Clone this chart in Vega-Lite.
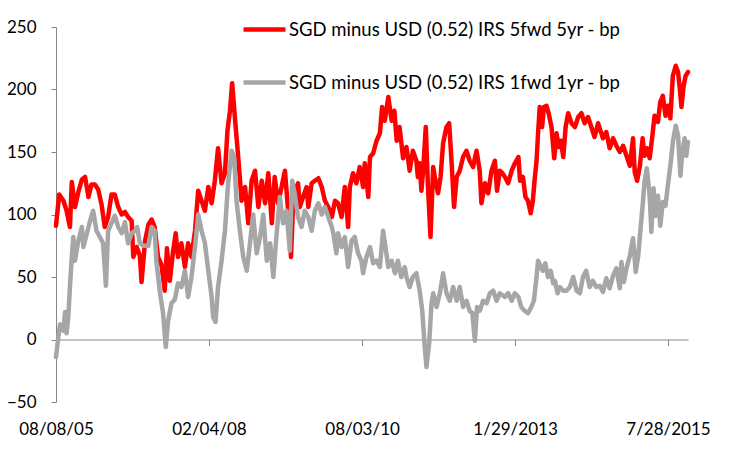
{
  "$schema": "https://vega.github.io/schema/vega-lite/v6.json",
  "width": 632,
  "height": 375,
  "autosize": {"type": "none"},
  "padding": {"left": 56, "top": 27, "right": 62, "bottom": 48},
  "config": {
    "font": "Lato",
    "view": {"stroke": null},
    "axis": {
      "labelFont": "Lato",
      "labelFontSize": 17,
      "labelColor": "#000000",
      "domainColor": "#868686",
      "tickColor": "#868686",
      "domainWidth": 1,
      "tickWidth": 1,
      "grid": false,
      "title": null
    },
    "legend": {
      "orient": "none",
      "legendX": 185,
      "legendY": -21,
      "padding": 0,
      "title": null,
      "symbolType": "stroke",
      "symbolSize": 1764,
      "symbolStrokeWidth": 4.5,
      "rowPadding": 20,
      "labelOffset": 1,
      "labelFont": "Lato",
      "labelFontSize": 18.5,
      "labelColor": "#000000",
      "labelLimit": 600
    }
  },
  "datasets": {
    "fwd5y5y": [
      {"date": "2005-08-08", "bp": 91}, {"date": "2005-08-27", "bp": 116}, {"date": "2005-09-21", "bp": 111},
      {"date": "2005-10-10", "bp": 103}, {"date": "2005-10-30", "bp": 90}, {"date": "2005-11-10", "bp": 126},
      {"date": "2005-11-29", "bp": 106}, {"date": "2005-12-19", "bp": 118}, {"date": "2006-01-09", "bp": 128},
      {"date": "2006-01-28", "bp": 130}, {"date": "2006-02-17", "bp": 114}, {"date": "2006-03-07", "bp": 124},
      {"date": "2006-03-27", "bp": 124}, {"date": "2006-04-16", "bp": 120}, {"date": "2006-05-06", "bp": 108},
      {"date": "2006-05-25", "bp": 90}, {"date": "2006-06-14", "bp": 98}, {"date": "2006-07-04", "bp": 116},
      {"date": "2006-07-24", "bp": 116}, {"date": "2006-08-13", "bp": 106}, {"date": "2006-09-03", "bp": 100},
      {"date": "2006-09-22", "bp": 102}, {"date": "2006-10-11", "bp": 98}, {"date": "2006-11-01", "bp": 95},
      {"date": "2006-11-11", "bp": 66}, {"date": "2006-12-01", "bp": 74}, {"date": "2006-12-20", "bp": 67},
      {"date": "2006-12-30", "bp": 46}, {"date": "2007-01-20", "bp": 79}, {"date": "2007-02-09", "bp": 92},
      {"date": "2007-02-28", "bp": 96}, {"date": "2007-03-18", "bp": 90}, {"date": "2007-04-07", "bp": 66},
      {"date": "2007-04-27", "bp": 60}, {"date": "2007-05-17", "bp": 39}, {"date": "2007-05-30", "bp": 73},
      {"date": "2007-06-16", "bp": 47}, {"date": "2007-07-06", "bp": 71}, {"date": "2007-07-21", "bp": 85},
      {"date": "2007-08-04", "bp": 66}, {"date": "2007-08-24", "bp": 77}, {"date": "2007-09-14", "bp": 58},
      {"date": "2007-10-03", "bp": 77}, {"date": "2007-10-23", "bp": 66}, {"date": "2007-11-13", "bp": 87},
      {"date": "2007-12-02", "bp": 119}, {"date": "2007-12-22", "bp": 111}, {"date": "2008-01-11", "bp": 103},
      {"date": "2008-01-31", "bp": 122}, {"date": "2008-02-20", "bp": 109}, {"date": "2008-03-10", "bp": 127},
      {"date": "2008-03-29", "bp": 153}, {"date": "2008-04-19", "bp": 125}, {"date": "2008-05-09", "bp": 133},
      {"date": "2008-05-24", "bp": 167}, {"date": "2008-06-08", "bp": 183}, {"date": "2008-06-21", "bp": 205},
      {"date": "2008-07-07", "bp": 178}, {"date": "2008-07-27", "bp": 146}, {"date": "2008-08-16", "bp": 111},
      {"date": "2008-09-06", "bp": 122}, {"date": "2008-09-25", "bp": 93}, {"date": "2008-10-15", "bp": 127},
      {"date": "2008-11-04", "bp": 135}, {"date": "2008-11-24", "bp": 106}, {"date": "2008-12-14", "bp": 127},
      {"date": "2009-01-03", "bp": 109}, {"date": "2009-01-22", "bp": 133}, {"date": "2009-02-12", "bp": 93},
      {"date": "2009-03-01", "bp": 130}, {"date": "2009-03-21", "bp": 109}, {"date": "2009-04-11", "bp": 122},
      {"date": "2009-05-01", "bp": 135}, {"date": "2009-05-20", "bp": 103}, {"date": "2009-06-06", "bp": 66},
      {"date": "2009-06-19", "bp": 109}, {"date": "2009-07-09", "bp": 122}, {"date": "2009-07-18", "bp": 125},
      {"date": "2009-07-28", "bp": 106}, {"date": "2009-08-17", "bp": 114}, {"date": "2009-09-07", "bp": 122},
      {"date": "2009-09-17", "bp": 106}, {"date": "2009-10-07", "bp": 125}, {"date": "2009-10-26", "bp": 127},
      {"date": "2009-11-16", "bp": 129}, {"date": "2009-12-06", "bp": 122}, {"date": "2009-12-25", "bp": 111},
      {"date": "2010-01-14", "bp": 106}, {"date": "2010-02-04", "bp": 98}, {"date": "2010-02-23", "bp": 111},
      {"date": "2010-03-13", "bp": 109}, {"date": "2010-04-03", "bp": 98}, {"date": "2010-04-22", "bp": 122},
      {"date": "2010-05-12", "bp": 90}, {"date": "2010-05-22", "bp": 122}, {"date": "2010-06-10", "bp": 133},
      {"date": "2010-06-30", "bp": 125}, {"date": "2010-07-20", "bp": 138}, {"date": "2010-08-09", "bp": 122},
      {"date": "2010-08-19", "bp": 141}, {"date": "2010-09-09", "bp": 114}, {"date": "2010-09-19", "bp": 146},
      {"date": "2010-10-08", "bp": 149}, {"date": "2010-10-28", "bp": 159}, {"date": "2010-11-17", "bp": 165},
      {"date": "2010-11-30", "bp": 186}, {"date": "2010-12-16", "bp": 175}, {"date": "2011-01-06", "bp": 194},
      {"date": "2011-01-26", "bp": 175}, {"date": "2011-02-11", "bp": 183}, {"date": "2011-02-25", "bp": 159},
      {"date": "2011-03-14", "bp": 170}, {"date": "2011-04-04", "bp": 145}, {"date": "2011-04-24", "bp": 154},
      {"date": "2011-05-13", "bp": 135}, {"date": "2011-06-01", "bp": 151}, {"date": "2011-06-22", "bp": 143},
      {"date": "2011-07-01", "bp": 130}, {"date": "2011-07-12", "bp": 141}, {"date": "2011-07-22", "bp": 119},
      {"date": "2011-08-01", "bp": 135}, {"date": "2011-08-17", "bp": 170}, {"date": "2011-08-30", "bp": 122},
      {"date": "2011-09-14", "bp": 82}, {"date": "2011-09-30", "bp": 138}, {"date": "2011-10-16", "bp": 125},
      {"date": "2011-10-29", "bp": 117}, {"date": "2011-11-13", "bp": 130}, {"date": "2011-11-28", "bp": 157},
      {"date": "2011-12-18", "bp": 170}, {"date": "2012-01-03", "bp": 173}, {"date": "2012-01-17", "bp": 143},
      {"date": "2012-02-01", "bp": 106}, {"date": "2012-02-17", "bp": 130}, {"date": "2012-03-06", "bp": 135},
      {"date": "2012-03-26", "bp": 146}, {"date": "2012-04-15", "bp": 151}, {"date": "2012-05-04", "bp": 143},
      {"date": "2012-05-24", "bp": 138}, {"date": "2012-06-14", "bp": 151}, {"date": "2012-07-03", "bp": 135},
      {"date": "2012-07-13", "bp": 109}, {"date": "2012-08-03", "bp": 125}, {"date": "2012-08-22", "bp": 117},
      {"date": "2012-09-11", "bp": 135}, {"date": "2012-10-01", "bp": 143}, {"date": "2012-10-14", "bp": 119},
      {"date": "2012-10-30", "bp": 135}, {"date": "2012-11-15", "bp": 133}, {"date": "2012-11-30", "bp": 130},
      {"date": "2012-12-19", "bp": 125}, {"date": "2013-01-09", "bp": 135}, {"date": "2013-01-28", "bp": 141},
      {"date": "2013-02-18", "bp": 146}, {"date": "2013-02-28", "bp": 127}, {"date": "2013-03-17", "bp": 130},
      {"date": "2013-04-01", "bp": 114}, {"date": "2013-04-16", "bp": 111}, {"date": "2013-05-02", "bp": 101},
      {"date": "2013-05-15", "bp": 111}, {"date": "2013-05-25", "bp": 127}, {"date": "2013-06-06", "bp": 143},
      {"date": "2013-06-15", "bp": 165}, {"date": "2013-06-25", "bp": 186}, {"date": "2013-07-09", "bp": 170},
      {"date": "2013-07-20", "bp": 186}, {"date": "2013-08-04", "bp": 187}, {"date": "2013-08-17", "bp": 181},
      {"date": "2013-09-03", "bp": 170}, {"date": "2013-09-19", "bp": 145}, {"date": "2013-10-03", "bp": 165},
      {"date": "2013-10-16", "bp": 154}, {"date": "2013-10-28", "bp": 159}, {"date": "2013-11-12", "bp": 146},
      {"date": "2013-11-26", "bp": 170}, {"date": "2013-12-11", "bp": 181}, {"date": "2013-12-31", "bp": 173},
      {"date": "2014-01-20", "bp": 170}, {"date": "2014-02-09", "bp": 178}, {"date": "2014-02-28", "bp": 181},
      {"date": "2014-03-19", "bp": 173}, {"date": "2014-04-08", "bp": 178}, {"date": "2014-04-28", "bp": 170},
      {"date": "2014-05-17", "bp": 162}, {"date": "2014-06-07", "bp": 173}, {"date": "2014-07-06", "bp": 161},
      {"date": "2014-07-26", "bp": 166}, {"date": "2014-08-15", "bp": 153}, {"date": "2014-09-04", "bp": 161},
      {"date": "2014-09-24", "bp": 155}, {"date": "2014-10-14", "bp": 150}, {"date": "2014-11-03", "bp": 155},
      {"date": "2014-11-23", "bp": 147}, {"date": "2014-12-13", "bp": 139}, {"date": "2015-01-01", "bp": 161},
      {"date": "2015-01-11", "bp": 134}, {"date": "2015-01-25", "bp": 127}, {"date": "2015-02-11", "bp": 139},
      {"date": "2015-02-27", "bp": 161}, {"date": "2015-03-10", "bp": 147}, {"date": "2015-03-24", "bp": 153},
      {"date": "2015-04-10", "bp": 145}, {"date": "2015-04-26", "bp": 163}, {"date": "2015-05-09", "bp": 179},
      {"date": "2015-05-29", "bp": 174}, {"date": "2015-06-12", "bp": 190}, {"date": "2015-06-27", "bp": 195},
      {"date": "2015-07-13", "bp": 179}, {"date": "2015-07-27", "bp": 187}, {"date": "2015-08-11", "bp": 177},
      {"date": "2015-08-26", "bp": 211}, {"date": "2015-09-12", "bp": 219}, {"date": "2015-09-26", "bp": 214},
      {"date": "2015-10-06", "bp": 201}, {"date": "2015-10-16", "bp": 186}, {"date": "2015-10-29", "bp": 203},
      {"date": "2015-11-10", "bp": 211}, {"date": "2015-11-24", "bp": 214}
    ],
    "fwd1y1y": [
      {"date": "2005-08-08", "bp": -14}, {"date": "2005-08-22", "bp": 2}, {"date": "2005-09-01", "bp": 12},
      {"date": "2005-09-21", "bp": 7}, {"date": "2005-10-01", "bp": 22}, {"date": "2005-10-10", "bp": 5},
      {"date": "2005-10-20", "bp": 18}, {"date": "2005-10-30", "bp": 42}, {"date": "2005-11-10", "bp": 66},
      {"date": "2005-11-19", "bp": 82}, {"date": "2005-11-29", "bp": 63}, {"date": "2005-12-19", "bp": 79},
      {"date": "2006-01-09", "bp": 90}, {"date": "2006-01-18", "bp": 74}, {"date": "2006-02-08", "bp": 85},
      {"date": "2006-02-27", "bp": 95}, {"date": "2006-03-17", "bp": 103}, {"date": "2006-04-06", "bp": 87},
      {"date": "2006-04-26", "bp": 82}, {"date": "2006-05-15", "bp": 77}, {"date": "2006-06-01", "bp": 43},
      {"date": "2006-06-14", "bp": 87}, {"date": "2006-07-04", "bp": 93}, {"date": "2006-07-24", "bp": 99},
      {"date": "2006-08-13", "bp": 90}, {"date": "2006-09-03", "bp": 85}, {"date": "2006-09-22", "bp": 94},
      {"date": "2006-10-11", "bp": 77}, {"date": "2006-11-01", "bp": 85}, {"date": "2006-11-21", "bp": 87},
      {"date": "2006-12-04", "bp": 90}, {"date": "2006-12-20", "bp": 77}, {"date": "2007-01-10", "bp": 75},
      {"date": "2007-02-09", "bp": 75}, {"date": "2007-02-28", "bp": 90}, {"date": "2007-03-18", "bp": 87},
      {"date": "2007-03-28", "bp": 63}, {"date": "2007-04-17", "bp": 39}, {"date": "2007-05-07", "bp": 21},
      {"date": "2007-05-23", "bp": -6}, {"date": "2007-06-06", "bp": 15}, {"date": "2007-06-26", "bp": 29},
      {"date": "2007-07-16", "bp": 32}, {"date": "2007-08-04", "bp": 45}, {"date": "2007-08-24", "bp": 42},
      {"date": "2007-09-14", "bp": 55}, {"date": "2007-10-03", "bp": 34}, {"date": "2007-10-23", "bp": 50},
      {"date": "2007-11-13", "bp": 74}, {"date": "2007-12-02", "bp": 100}, {"date": "2007-12-22", "bp": 87},
      {"date": "2008-01-11", "bp": 77}, {"date": "2008-01-31", "bp": 55}, {"date": "2008-02-20", "bp": 34},
      {"date": "2008-02-29", "bp": 18}, {"date": "2008-03-14", "bp": 14}, {"date": "2008-03-29", "bp": 42},
      {"date": "2008-04-19", "bp": 63}, {"date": "2008-05-09", "bp": 87}, {"date": "2008-05-28", "bp": 125},
      {"date": "2008-06-18", "bp": 151}, {"date": "2008-07-03", "bp": 146}, {"date": "2008-07-17", "bp": 111},
      {"date": "2008-08-06", "bp": 87}, {"date": "2008-08-26", "bp": 66}, {"date": "2008-09-16", "bp": 55},
      {"date": "2008-10-05", "bp": 77}, {"date": "2008-10-24", "bp": 100}, {"date": "2008-11-14", "bp": 69},
      {"date": "2008-12-04", "bp": 82}, {"date": "2008-12-23", "bp": 100}, {"date": "2009-01-13", "bp": 63},
      {"date": "2009-02-02", "bp": 77}, {"date": "2009-02-21", "bp": 50}, {"date": "2009-03-11", "bp": 82},
      {"date": "2009-04-01", "bp": 114}, {"date": "2009-04-20", "bp": 93}, {"date": "2009-05-10", "bp": 103},
      {"date": "2009-05-30", "bp": 71}, {"date": "2009-06-13", "bp": 127}, {"date": "2009-06-29", "bp": 116},
      {"date": "2009-07-18", "bp": 98}, {"date": "2009-08-08", "bp": 90}, {"date": "2009-08-27", "bp": 103},
      {"date": "2009-09-17", "bp": 98}, {"date": "2009-10-07", "bp": 87}, {"date": "2009-10-26", "bp": 103},
      {"date": "2009-11-16", "bp": 109}, {"date": "2009-12-06", "bp": 100}, {"date": "2009-12-25", "bp": 106},
      {"date": "2010-01-14", "bp": 98}, {"date": "2010-02-04", "bp": 90}, {"date": "2010-02-13", "bp": 85},
      {"date": "2010-03-03", "bp": 69}, {"date": "2010-03-13", "bp": 85}, {"date": "2010-04-03", "bp": 74},
      {"date": "2010-04-22", "bp": 82}, {"date": "2010-05-12", "bp": 58}, {"date": "2010-06-01", "bp": 79},
      {"date": "2010-06-20", "bp": 82}, {"date": "2010-07-10", "bp": 69}, {"date": "2010-07-30", "bp": 63},
      {"date": "2010-08-09", "bp": 53}, {"date": "2010-08-29", "bp": 66}, {"date": "2010-09-19", "bp": 74},
      {"date": "2010-10-08", "bp": 61}, {"date": "2010-10-28", "bp": 63}, {"date": "2010-11-17", "bp": 58},
      {"date": "2010-12-06", "bp": 87}, {"date": "2010-12-20", "bp": 74}, {"date": "2011-01-06", "bp": 58},
      {"date": "2011-01-26", "bp": 63}, {"date": "2011-02-15", "bp": 53}, {"date": "2011-03-04", "bp": 63},
      {"date": "2011-03-24", "bp": 50}, {"date": "2011-04-14", "bp": 58}, {"date": "2011-04-24", "bp": 50},
      {"date": "2011-05-13", "bp": 42}, {"date": "2011-06-01", "bp": 50}, {"date": "2011-06-22", "bp": 53},
      {"date": "2011-07-12", "bp": 39}, {"date": "2011-07-27", "bp": 23}, {"date": "2011-08-11", "bp": -6},
      {"date": "2011-08-21", "bp": -22}, {"date": "2011-09-06", "bp": -3}, {"date": "2011-09-20", "bp": 29},
      {"date": "2011-09-30", "bp": 37}, {"date": "2011-10-20", "bp": 26}, {"date": "2011-11-09", "bp": 37},
      {"date": "2011-11-28", "bp": 53}, {"date": "2011-12-18", "bp": 37}, {"date": "2012-01-07", "bp": 31},
      {"date": "2012-01-27", "bp": 42}, {"date": "2012-02-17", "bp": 31}, {"date": "2012-03-06", "bp": 42},
      {"date": "2012-03-26", "bp": 26}, {"date": "2012-04-15", "bp": 31}, {"date": "2012-05-04", "bp": 23},
      {"date": "2012-05-20", "bp": 21}, {"date": "2012-06-04", "bp": -1}, {"date": "2012-06-17", "bp": 26},
      {"date": "2012-07-03", "bp": 23}, {"date": "2012-07-23", "bp": 31}, {"date": "2012-08-13", "bp": 29},
      {"date": "2012-09-01", "bp": 37}, {"date": "2012-09-21", "bp": 39}, {"date": "2012-10-11", "bp": 31},
      {"date": "2012-10-30", "bp": 37}, {"date": "2012-11-20", "bp": 35}, {"date": "2012-11-30", "bp": 34},
      {"date": "2012-12-19", "bp": 37}, {"date": "2013-01-09", "bp": 31}, {"date": "2013-01-28", "bp": 37},
      {"date": "2013-02-18", "bp": 34}, {"date": "2013-03-07", "bp": 26}, {"date": "2013-03-27", "bp": 23},
      {"date": "2013-04-16", "bp": 21}, {"date": "2013-05-06", "bp": 26}, {"date": "2013-05-21", "bp": 31},
      {"date": "2013-06-06", "bp": 50}, {"date": "2013-06-15", "bp": 63}, {"date": "2013-07-01", "bp": 58},
      {"date": "2013-07-14", "bp": 55}, {"date": "2013-07-28", "bp": 61}, {"date": "2013-08-13", "bp": 50},
      {"date": "2013-08-29", "bp": 55}, {"date": "2013-09-13", "bp": 45}, {"date": "2013-09-23", "bp": 47},
      {"date": "2013-10-09", "bp": 37}, {"date": "2013-10-22", "bp": 42}, {"date": "2013-11-12", "bp": 39},
      {"date": "2013-12-01", "bp": 39}, {"date": "2013-12-21", "bp": 42}, {"date": "2014-01-10", "bp": 50},
      {"date": "2014-01-30", "bp": 39}, {"date": "2014-02-19", "bp": 37}, {"date": "2014-03-09", "bp": 50},
      {"date": "2014-03-28", "bp": 55}, {"date": "2014-04-18", "bp": 42}, {"date": "2014-05-07", "bp": 47},
      {"date": "2014-05-27", "bp": 42}, {"date": "2014-06-17", "bp": 43}, {"date": "2014-07-06", "bp": 38},
      {"date": "2014-07-26", "bp": 49}, {"date": "2014-08-15", "bp": 41}, {"date": "2014-09-04", "bp": 51},
      {"date": "2014-09-24", "bp": 57}, {"date": "2014-10-14", "bp": 41}, {"date": "2014-10-24", "bp": 62},
      {"date": "2014-11-07", "bp": 46}, {"date": "2014-11-23", "bp": 57}, {"date": "2014-12-13", "bp": 67},
      {"date": "2015-01-01", "bp": 81}, {"date": "2015-01-17", "bp": 54}, {"date": "2015-02-01", "bp": 67},
      {"date": "2015-02-15", "bp": 89}, {"date": "2015-02-27", "bp": 107}, {"date": "2015-03-10", "bp": 126},
      {"date": "2015-03-24", "bp": 137}, {"date": "2015-04-10", "bp": 115}, {"date": "2015-04-20", "bp": 86},
      {"date": "2015-05-03", "bp": 121}, {"date": "2015-05-15", "bp": 99}, {"date": "2015-05-29", "bp": 115},
      {"date": "2015-06-12", "bp": 91}, {"date": "2015-06-27", "bp": 110}, {"date": "2015-07-13", "bp": 107},
      {"date": "2015-07-27", "bp": 123}, {"date": "2015-08-11", "bp": 139}, {"date": "2015-08-26", "bp": 158},
      {"date": "2015-09-12", "bp": 171}, {"date": "2015-09-26", "bp": 163}, {"date": "2015-10-10", "bp": 131},
      {"date": "2015-10-21", "bp": 150}, {"date": "2015-11-04", "bp": 161}, {"date": "2015-11-14", "bp": 147},
      {"date": "2015-11-24", "bp": 158}
    ]
  },
  "encoding": {
    "x": {
      "field": "date",
      "type": "temporal",
      "scale": {
        "type": "utc",
        "domain": [
          {"year": 2005, "month": 8, "date": 8, "utc": true},
          {"year": 2015, "month": 11, "date": 24, "utc": true}
        ]
      },
      "axis": {
        "values": [
          {"year": 2005, "month": 8, "date": 8, "utc": true},
          {"year": 2008, "month": 2, "date": 4, "utc": true},
          {"year": 2010, "month": 8, "date": 3, "utc": true},
          {"year": 2013, "month": 1, "date": 29, "utc": true},
          {"year": 2015, "month": 7, "date": 28, "utc": true}
        ],
        "labelExpr": "utcyear(datum.value) >= 2013 ? utcFormat(datum.value, '%-m/%d/%Y') : utcFormat(datum.value, '%m/%d/%y')",
        "offset": -62.5,
        "tickSize": 6,
        "labelBaseline": "alphabetic",
        "labelPadding": 89,
        "labelFlush": false,
        "labelOverlap": false
      }
    },
    "y": {
      "field": "bp",
      "type": "quantitative",
      "scale": {"domain": [-50, 250], "nice": false, "zero": false},
      "axis": {
        "values": [-50, 0, 50, 100, 150, 200, 250],
        "tickSize": 5,
        "labelPadding": 15
      }
    }
  },
  "layer": [
    {
      "data": {"name": "fwd5y5y"},
      "mark": {"type": "line", "strokeWidth": 4.5, "strokeJoin": "round", "strokeCap": "round"},
      "encoding": {
        "color": {
          "datum": "SGD minus USD (0.52) IRS 5fwd 5yr - bp",
          "scale": {
            "domain": ["SGD minus USD (0.52) IRS 5fwd 5yr - bp", "SGD minus USD (0.52) IRS 1fwd 1yr - bp"],
            "range": ["#ff0000", "#a6a6a6"]
          }
        }
      }
    },
    {
      "data": {"name": "fwd1y1y"},
      "mark": {"type": "line", "strokeWidth": 4.5, "strokeJoin": "round", "strokeCap": "round"},
      "encoding": {
        "color": {"datum": "SGD minus USD (0.52) IRS 1fwd 1yr - bp"}
      }
    }
  ]
}
